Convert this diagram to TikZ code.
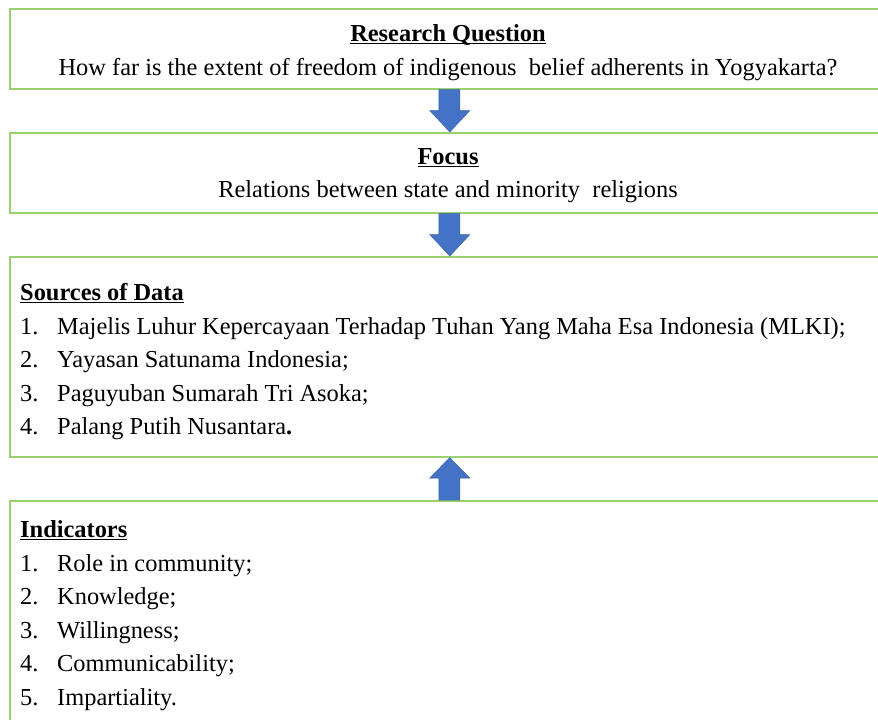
\documentclass[tikz,border=0pt]{standalone}
\usepackage{fontspec}
\setmainfont{Liberation Serif}
\usetikzlibrary{calc}
\definecolor{boxgreen}{RGB}{155,208,112}
\definecolor{arrowblue}{RGB}{68,114,196}
\definecolor{arrowedge}{RGB}{60,100,175}
\newcommand\myul[1]{\setbox0\hbox{#1}\rlap{\rule[-3pt]{\wd0}{1.3pt}}\box0}
\begin{document}
\begin{tikzpicture}[x=1pt,y=-1pt,
  box/.style={draw=boxgreen,line width=1.6pt,rectangle,minimum width=878pt,anchor=north west,inner sep=0pt},
  ctext/.style={font=\fontsize{24.4}{33}\selectfont,anchor=base,inner sep=0pt},
  ltext/.style={font=\fontsize{24.4}{33}\selectfont,anchor=base west,inner sep=0pt},
  blk/.style={fill=arrowblue,draw=arrowedge,line width=0.5pt}]
\clip (0,0) rectangle (878,720);
\fill[white] (0,0) rectangle (878,720);
% boxes
\node[box,minimum height=80pt] (rq) at (9,8) {};
\node[box,minimum height=80pt] (fo) at (9,132) {};
\node[box,minimum height=200pt] (sd) at (9,256) {};
\node[box,minimum height=260pt] (ind) at (9,500) {};
% block arrows
\filldraw[blk] ($(rq.south)+(-10,0)$) -- ($(rq.south)+(11,0)$) -- ($(rq.south)+(11,21)$) -- ($(rq.south)+(21,21)$) -- ($(fo.north)+(1,0)$) -- ($(rq.south)+(-19,21)$) -- ($(rq.south)+(-10,21)$) -- cycle;
\filldraw[blk] ($(fo.south)+(-10,0)$) -- ($(fo.south)+(11,0)$) -- ($(fo.south)+(11,21)$) -- ($(fo.south)+(21,21)$) -- ($(sd.north)+(1,0)$) -- ($(fo.south)+(-19,21)$) -- ($(fo.south)+(-10,21)$) -- cycle;
\filldraw[blk] ($(ind.north)+(-10,0)$) -- ($(ind.north)+(11,0)$) -- ($(ind.north)+(11,-22)$) -- ($(ind.north)+(21,-22)$) -- ($(sd.south)+(1,0)$) -- ($(ind.north)+(-19,-22)$) -- ($(ind.north)+(-10,-22)$) -- cycle;
% box 1
\node[ctext] (rqt) at (448,41) {\myul{\textbf{Research Question}}};
\node[ctext] (rql) at (448,75) {How far is the extent of freedom of indigenous\ \ belief adherents in Yogyakarta?};
% box 2
\node[ctext] (fot) at (448,164) {\myul{\textbf{Focus}}};
\node[ctext] (fol) at (448,197) {Relations between state and minority\ \ religions};
% box 3
\node[ltext] (sdt) at (20,300) {\myul{\textbf{Sources of Data}}};
\node[ltext] (sn1) at (20,334) {1.};
\node[ltext] (s1) at (57,334) {Majelis Luhur Kepercayaan Terhadap Tuhan Yang Maha Esa Indonesia (MLKI);};
\node[ltext] (sn2) at (20,367.5) {2.};
\node[ltext] (s2) at (57,367.5) {Yayasan Satunama Indonesia;};
\node[ltext] (sn3) at (20,401) {3.};
\node[ltext] (s3) at (57,401) {Paguyuban Sumarah Tri Asoka;};
\node[ltext] (sn4) at (20,434.5) {4.};
\node[ltext] (s4) at (57,434.5) {Palang Putih Nusantara\textbf{.}};
% box 4
\node[ltext] (it) at (20,537) {\myul{\textbf{Indicators}}};
\node[ltext] (in1) at (20,571) {1.};
\node[ltext] (i1) at (57,571) {Role in community;};
\node[ltext] (in2) at (20,604.5) {2.};
\node[ltext] (i2) at (57,604.5) {Knowledge;};
\node[ltext] (in3) at (20,638) {3.};
\node[ltext] (i3) at (57,638) {Willingness;};
\node[ltext] (in4) at (20,671.5) {4.};
\node[ltext] (i4) at (57,671.5) {Communicability;};
\node[ltext] (in5) at (20,705) {5.};
\node[ltext] (i5) at (57,705) {Impartiality.};
\end{tikzpicture}
\end{document}
